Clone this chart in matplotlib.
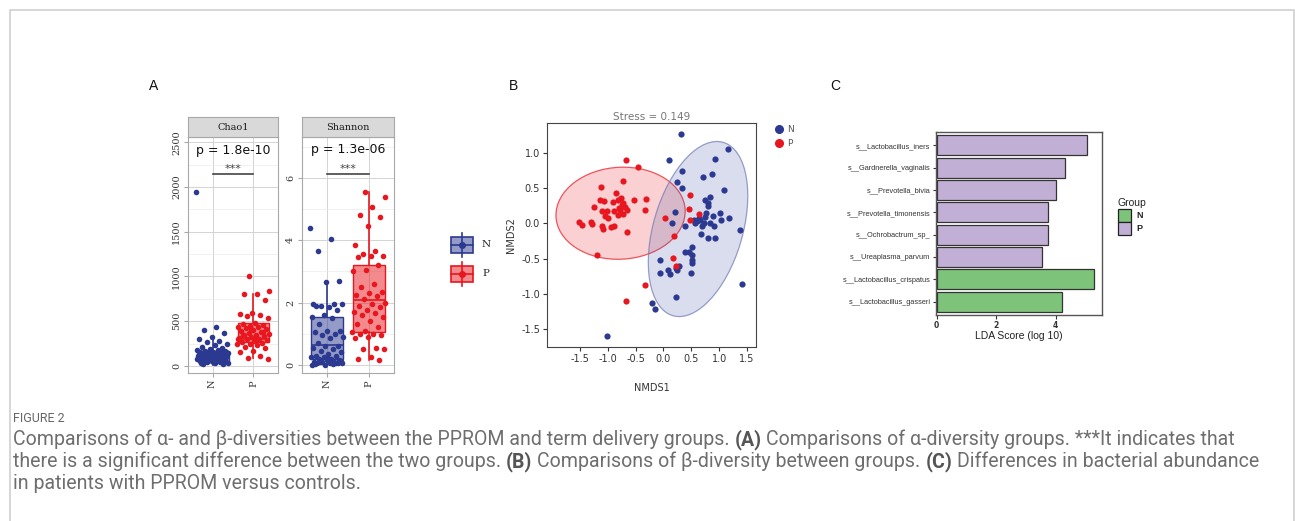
import numpy as np
import matplotlib
matplotlib.use("Agg")
import matplotlib.pyplot as plt
from matplotlib.patches import Ellipse, Rectangle
from matplotlib.lines import Line2D
from matplotlib import font_manager

W, H = 1295, 521

# ---------------- data ----------------
groups = ["N", "P"]
col_n = "#2B3990"
col_p = "#E8161E"

chao1_n = [1940, 440, 400, 370, 320, 300, 280, 270, 250, 230, 210, 200, 190, 180,
           175, 170, 165, 160, 155, 150, 145, 140, 135, 130, 125, 120, 115, 110,
           105, 100, 95, 90, 85, 80, 75, 70, 65, 60, 55, 50, 45, 40, 35, 30, 25,
           20, 60, 80, 100, 120, 150, 40, 30, 70]
chao1_p = [1000, 840, 800, 800, 740, 590, 580, 570, 560, 540, 480, 470, 460, 450,
           440, 430, 420, 410, 400, 390, 380, 370, 360, 350, 340, 330, 320, 310,
           300, 300, 290, 280, 270, 260, 250, 240, 230, 210, 200, 170, 150, 110,
           90, 80, 320, 340, 380, 410, 300, 290]
shannon_n = [4.4, 4.05, 3.65, 2.7, 2.65, 1.95, 1.95, 1.9, 1.95, 1.85, 1.9, 1.75,
             1.6, 1.55, 1.5, 1.3, 1.1, 1.1, 1.05, 1.0, 0.95, 0.9, 0.85, 0.7, 0.6,
             0.6, 0.55, 0.5, 0.45, 0.4, 0.35, 0.3, 0.3, 0.25, 0.25, 0.2, 0.2, 0.15,
             0.15, 0.1, 0.1, 0.1, 0.05, 0.05, 0.05, 0.05, 0.0, 0.0, 0.02, 0.08,
             0.12, 0.18, 0.03, 0.07]
shannon_p = [5.55, 5.4, 5.05, 4.8, 4.75, 4.45, 3.85, 3.65, 3.55, 3.5, 3.5, 3.45,
             3.2, 3.05, 3.0, 2.6, 2.5, 2.35, 2.3, 2.25, 2.2, 2.1, 2.0, 1.95, 1.9,
             1.85, 1.75, 1.7, 1.65, 1.6, 1.55, 1.4, 1.3, 1.2, 1.1, 1.05, 1.0, 1.0,
             0.95, 0.9, 0.85, 0.55, 0.5, 0.5, 0.25, 0.2, 0.15]

# box stats: whislo, q1, median, q3, whishi
chao1_box = {"N": [10, 50, 100, 170, 320], "P": [90, 270, 305, 480, 800]}
shannon_box = {"N": [0.0, 0.2, 0.65, 1.55, 2.7], "P": [0.15, 1.07, 2.07, 3.2, 5.55]}
pvals = {"Chao1": "p = 1.8e-10", "Shannon": "p = 1.3e-06"}

nmds_n = [(0.32, 1.28), (0.10, 0.90), (0.33, 0.75), (0.25, 0.59), (0.34, 0.50),
          (1.16, 1.06), (0.93, 0.92), (0.71, 0.66), (0.87, 0.71), (1.08, 0.48),
          (0.74, 0.34), (0.83, 0.37), (0.79, 0.25), (0.80, 0.29), (1.02, 0.15),
          (1.17, 0.07), (1.04, 0.05), (0.77, 0.15), (0.88, 0.10), (0.66, 0.05),
          (0.60, 0.03), (0.72, 0.00), (0.69, -0.04), (0.84, 0.00), (0.90, -0.03),
          (0.39, -0.04), (0.67, -0.15), (0.79, -0.21), (0.93, -0.21), (1.38, -0.09),
          (0.20, 0.16), (0.15, 0.00), (0.51, -0.34), (0.38, -0.40), (0.45, -0.40),
          (0.52, -0.45), (0.52, -0.52), (0.52, -0.57), (-0.06, -0.52), (-0.07, -0.70),
          (0.09, -0.67), (0.12, -0.72), (0.22, -0.64), (0.27, -0.61), (0.25, -0.66),
          (0.50, -0.70), (0.23, -1.05), (-0.21, -1.14), (-0.15, -1.22), (1.41, -0.86),
          (-1.01, -1.60), (0.55, 0.05), (0.57, 0.00), (0.63, 0.08), (0.74, 0.09)]
nmds_p = [(-0.67, 0.90), (-0.46, 0.81), (-0.72, 0.61), (-1.13, 0.52), (-0.85, 0.43),
          (-0.31, 0.35), (-1.14, 0.33), (-1.06, 0.32), (-0.91, 0.31), (-0.81, 0.34),
          (-0.75, 0.26), (-0.53, 0.33), (-0.34, 0.19), (-0.65, 0.19), (-1.25, 0.24),
          (-1.11, 0.18), (-1.02, 0.18), (-0.78, 0.19), (-0.69, 0.23), (-0.82, 0.12),
          (-0.99, 0.07), (-1.05, 0.10), (-1.51, 0.02), (-1.46, -0.02), (-1.30, 0.02),
          (-1.28, -0.01), (-1.10, -0.04), (-1.09, -0.08), (-0.94, -0.05), (-0.89, -0.04),
          (-0.65, -0.12), (-1.19, -0.45), (-0.34, -0.88), (-0.67, -1.10), (0.03, 0.07),
          (0.47, 0.41), (0.46, 0.20), (0.63, 0.13), (0.48, 0.05), (0.18, -0.18),
          (0.17, -0.49), (0.22, -0.60), (-0.72, 0.29), (-0.76, 0.36), (-0.88, 0.17),
          (-0.73, 0.14), (-0.79, 0.22)]
# ellipse: centre x, centre y, width, height, angle
ellipse_n = [0.62, -0.08, 2.64, 1.56, 66]
ellipse_p = [-0.77, 0.145, 2.32, 1.31, 2]
stress = 0.149

species = ["s__Lactobacillus_iners", "s__Gardnerella_vaginalis", "s__Prevotella_bivia",
           "s__Prevotella_timonensis", "s__Ochrobactrum_sp_", "s__Ureaplasma_parvum",
           "s__Lactobacillus_crispatus", "s__Lactobacillus_gasseri"]
lda = [5.04, 4.32, 4.01, 3.73, 3.73, 3.53, 5.29, 4.21]
lda_group = ["P", "P", "P", "P", "P", "P", "N", "N"]
lda_colors = {"N": "#7DC47A", "P": "#C2AFD6"}

# ---------------- figure ----------------
fig = plt.figure(figsize=(W / 100, H / 100), dpi=100)


def px_axes(x0, y0, x1, y1):
    return fig.add_axes([x0 / W, 1 - y1 / H, (x1 - x0) / W, (y1 - y0) / H])


def fx(x):
    return x / W


def fy(y):
    return 1 - y / H


# outer frame
fig.add_artist(Line2D([fx(10), fx(10), fx(1294), fx(1294)],
                      [fy(530), fy(10), fy(10), fy(530)], color="#cfcfcf", lw=1.2))

for lab, x in [("A", 154), ("B", 513), ("C", 835)]:
    fig.text(fx(x), fy(86), lab, ha="center", va="center", fontsize=10,
             family="Liberation Sans", color="#111111")

# ---------------- panel A ----------------
serif = "DejaVu Serif"


def alpha_panel(box, strip_box, title, vals, stats, ylim, major, minor, ptxt, ybar):
    ax = px_axes(*box)
    cols = [col_n, col_p]
    bstats = []
    for g in groups:
        lo, q1, med, q3, hi = stats[g]
        bstats.append({"whislo": lo, "q1": q1, "med": med, "q3": q3, "whishi": hi,
                       "fliers": []})
    bp = ax.bxp(bstats, positions=[1, 2], widths=0.78, patch_artist=True,
                showcaps=False, showfliers=False, manage_ticks=False)
    for i, c in enumerate(cols):
        bp["boxes"][i].set_facecolor(matplotlib.colors.to_rgba(c, 0.5))
        bp["boxes"][i].set_edgecolor(c)
        bp["boxes"][i].set_linewidth(1.0)
        bp["medians"][i].set_color(c)
        bp["medians"][i].set_linewidth(1.2)
        for w in bp["whiskers"][2 * i:2 * i + 2]:
            w.set_color(c)
            w.set_linewidth(1.2)

    for i, (g, c) in enumerate(zip(groups, cols)):
        v = np.asarray(vals[g])
        k = np.arange(len(v))
        jit = ((k * 0.618034 + 0.37 * i) % 1.0 - 0.5) * 0.8
        ax.scatter(i + 1 + jit, v, s=16, color=c, lw=0, zorder=3)

    ax.set_xlim(0.4, 2.6)
    ax.set_ylim(*ylim)
    ax.set_yticks(major)
    ax.set_yticks(minor, minor=True)
    ax.set_xticks([1, 2])
    ax.set_xticks([], minor=True)
    ax.set_xticklabels(groups, rotation=90, family=serif, fontsize=7, color="#333333")
    ax.set_yticklabels([f"{v:g}" for v in major], rotation=90, va="center",
                       family=serif, fontsize=7, color="#333333")
    ax.tick_params(which="minor", length=0)
    ax.grid(True, which="major", color="#d4d4d4", lw=0.7)
    ax.grid(True, which="minor", axis="y", color="#ececec", lw=0.5)
    ax.set_axisbelow(True)
    for s in ax.spines.values():
        s.set_color("#a8a8a8")
        s.set_linewidth(0.8)
    ax.tick_params(which="major", length=3, color="#a8a8a8", pad=2)

    ax.text(1.5, ptxt, pvals[title], ha="center", va="center", fontsize=9,
            family="DejaVu Sans", color="#111111")
    ax.plot([1, 2], [ybar, ybar], color="#444444", lw=1.2)
    ax.text(1.5, ybar, "***", ha="center", va="bottom", fontsize=8, color="#444444")

    st = px_axes(*strip_box)
    st.set_xticks([])
    st.set_yticks([])
    st.set_facecolor("#d9d9d9")
    for s in st.spines.values():
        s.set_color("#a8a8a8")
        s.set_linewidth(0.8)
    st.text(0.5, 0.5, title, ha="center", va="center", family=serif, fontsize=7,
            color="#1a1a1a", transform=st.transAxes)
    return ax


alpha_panel((188, 137, 278, 373), (188, 117, 278, 137), "Chao1",
            {"N": chao1_n, "P": chao1_p}, chao1_box, (-80, 2560),
            [0, 500, 1000, 1500, 2000, 2500], [250, 750, 1250, 1750, 2250],
            2410, 2143)
alpha_panel((302, 137, 394, 373), (302, 117, 394, 137), "Shannon",
            {"N": shannon_n, "P": shannon_p}, shannon_box, (-0.26, 7.31),
            [0, 2, 4, 6], [1, 3, 5, 7], 6.9, 6.13)

# legend for panel A
lg = px_axes(440, 225, 500, 295)
lg.set_xlim(440, 500)
lg.set_ylim(295, 225)
lg.axis("off")
for c, yc, lab in [(col_n, 244.5, "N"), (col_p, 273.5, "P")]:
    lg.plot([462, 462], [yc - 12, yc + 12], color=c, lw=1.2)
    lg.add_patch(Rectangle((451, yc - 8), 22, 16, facecolor=matplotlib.colors.to_rgba(c, 0.5),
                           edgecolor=c, lw=1.2))
    lg.plot([451, 473], [yc, yc], color=c, lw=1.2)
    lg.plot([462], [yc], "o", color=c, ms=4)
    lg.text(482, yc, lab, ha="left", va="center", family=serif, fontsize=7.5,
            color="#222222")

# ---------------- panel B ----------------
axb = px_axes(547, 123, 756, 347)
axb.set_xlim(-2.09, 1.66)
axb.set_ylim(-1.76, 1.43)
for e, c, ec in [(ellipse_p, col_p, col_p), (ellipse_n, "#4A58A6", "#6F79B5")]:
    axb.add_patch(Ellipse((e[0], e[1]), e[2], e[3], angle=e[4],
                          facecolor=matplotlib.colors.to_rgba(c, 0.2),
                          edgecolor=matplotlib.colors.to_rgba(ec, 0.7), lw=0.9, zorder=1))
pn = np.array(nmds_n)
pp = np.array(nmds_p)
axb.scatter(pn[:, 0], pn[:, 1], s=20, color=col_n, lw=0, zorder=3)
axb.scatter(pp[:, 0], pp[:, 1], s=20, color=col_p, lw=0, zorder=3)
axb.set_xticks([-1.5, -1.0, -0.5, 0.0, 0.5, 1.0, 1.5])
axb.set_yticks([-1.5, -1.0, -0.5, 0.0, 0.5, 1.0])
axb.xaxis.set_major_formatter(matplotlib.ticker.FormatStrFormatter("%.1f"))
axb.yaxis.set_major_formatter(matplotlib.ticker.FormatStrFormatter("%.1f"))
axb.tick_params(labelsize=7, colors="#333333", length=3, pad=2)
for s in axb.spines.values():
    s.set_color("#444444")
    s.set_linewidth(0.8)
axb.set_title(f"Stress = {stress}", fontsize=7.5, color="#777777", pad=2)
axb.set_xlabel("NMDS1", fontsize=7, color="#333333", labelpad=14)
axb.set_ylabel("NMDS2", fontsize=7, color="#333333", labelpad=4)
for c, yy, lab in [(col_n, 129, "N"), (col_p, 143, "P")]:
    fig.add_artist(Line2D([fx(779)], [fy(yy)], marker="o", color=c, ms=5.5, lw=0))
    fig.text(fx(787), fy(yy), lab, ha="left", va="center", fontsize=6.5, color="#555555")

# ---------------- panel C ----------------
axc = px_axes(936, 132, 1102, 315)
ypos = np.arange(len(species))
axc.barh(ypos, lda, height=0.9, color=[lda_colors[g] for g in lda_group],
         edgecolor="#333333", lw=0.9)
axc.set_ylim(len(species) - 0.4, -0.6)
axc.set_xlim(-0.02, 5.56)
axc.set_yticks(ypos)
axc.set_yticklabels(species, fontsize=5.3, family="Liberation Sans", color="#222222")
axc.set_xticks([0, 2, 4])
axc.tick_params(axis="x", labelsize=5.5, length=3, pad=1, colors="#333333")
axc.tick_params(axis="y", length=2.5, pad=1.5, colors="#333333")
for lbl in axc.get_xticklabels():
    lbl.set_fontweight("bold")
for s in axc.spines.values():
    s.set_color("#555555")
    s.set_linewidth(1.0)
axc.set_xlabel("LDA Score (log 10)", fontsize=7.5, family="Liberation Sans",
               color="#222222", labelpad=1)
fig.text(fx(1117), fy(203), "Group", ha="left", va="center", fontsize=7.5,
         family="Liberation Sans", color="#222222")
for g, y0 in [("N", 209), ("P", 222)]:
    fig.add_artist(Rectangle((fx(1118), fy(y0 + 13)), 13 / W, 13 / H,
                             facecolor=lda_colors[g], edgecolor="#222222", lw=0.9,
                             transform=fig.transFigure))
    fig.text(fx(1136), fy(y0 + 6.5), g, ha="left", va="center", fontsize=6.5,
             family="Liberation Sans", weight="bold", color="#222222")

# ---------------- caption ----------------
installed = {f.name for f in font_manager.fontManager.ttflist}
cap_font = "Liberation Sans Narrow" if "Liberation Sans Narrow" in installed else "Roboto"
cap_col = "#6e6e6e"
fig.text(fx(13), fy(418), "FIGURE 2", ha="left", va="center", fontsize=9,
         family=cap_font, color="#666666")

lines = [
    [("Comparisons of α- and β-diversities between the PPROM and term delivery groups.", False),
     ("(A)", True), ("Comparisons of α-diversity groups. ***It indicates that", False)],
    [("there is a significant difference between the two groups.", False), ("(B)", True),
     ("Comparisons of β-diversity between groups.", False), ("(C)", True),
     ("Differences in bacterial abundance", False)],
    [("in patients with PPROM versus controls.", False)],
]

renderer = fig.canvas.get_renderer()


def width_of(s, size, bold):
    t = fig.text(0, 0, s, fontsize=size, family=cap_font,
                 weight="bold" if bold else "normal")
    w = t.get_window_extent(renderer).width
    t.remove()
    return w


def line_width(parts, size):
    sp = width_of("x x", size, False) - width_of("xx", size, False)
    return sum(width_of(s, size, b) for s, b in parts) + sp * (len(parts) - 1)


size = 10.0
size = size * 1249 / max(line_width(lines[0], size), line_width(lines[1], size))
sp = width_of("x x", size, False) - width_of("xx", size, False)
for yy, parts in zip([445, 467, 489], lines):
    x = 13
    for s, b in parts:
        t = fig.text(fx(x), fy(yy), s, ha="left", va="baseline", fontsize=size,
                     family=cap_font, weight="bold" if b else "normal",
                     color="#555555" if b else cap_col)
        x += t.get_window_extent(renderer).width + sp

fig.savefig("out.png", dpi=100)
